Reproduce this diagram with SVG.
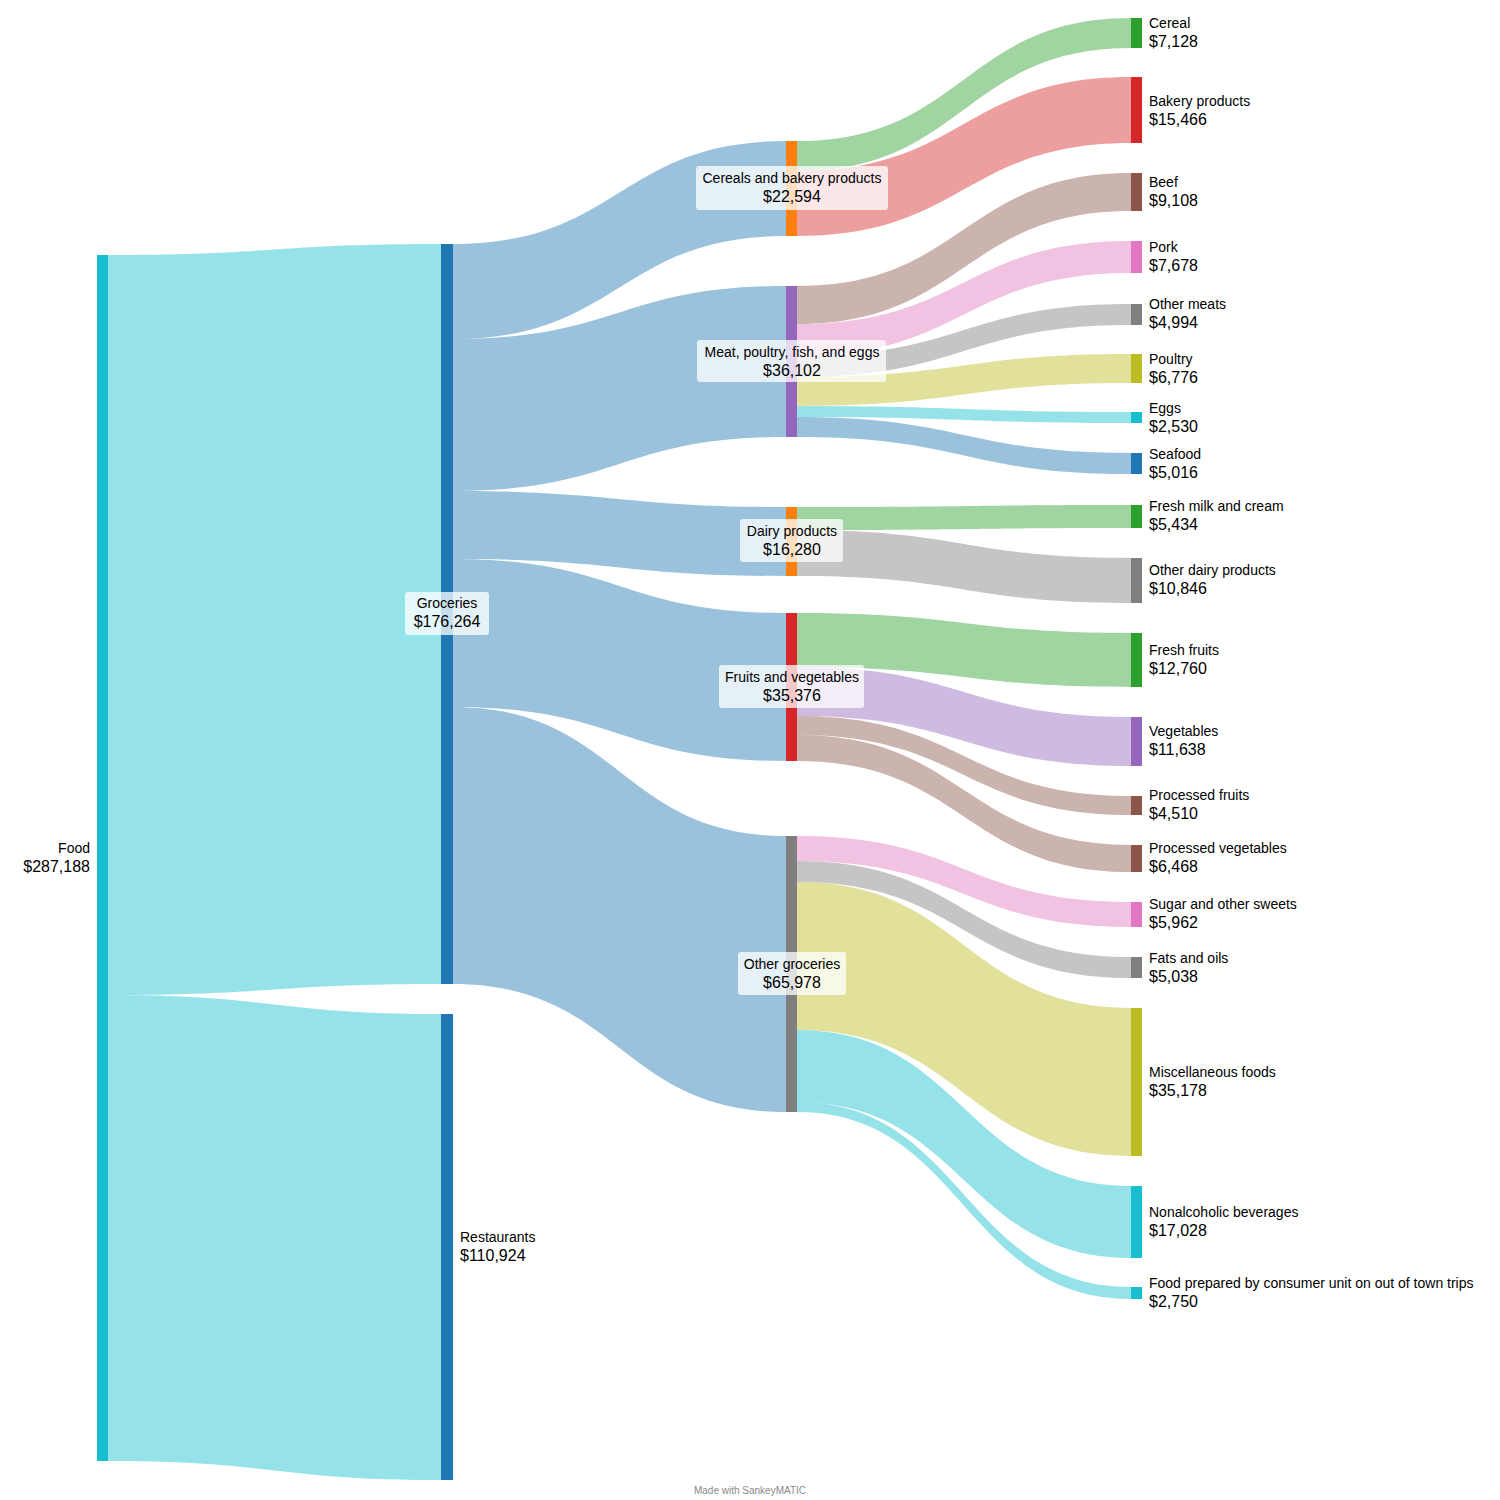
<svg xmlns="http://www.w3.org/2000/svg" width="1500" height="1500" viewBox="0 0 1500 1500">
<style>
.f{fill-opacity:0.45;stroke:none}
.n{font-family:"Liberation Sans",Arial,sans-serif;font-size:14px;fill:#000}
.v{font-family:"Liberation Sans",Arial,sans-serif;font-size:16px;fill:#000}
.bx{fill:#fff;fill-opacity:0.75;rx:3}
</style>
<rect width="1500" height="1500" fill="#fff"/>
<g id="connectors">
<path class="f" fill="#17becf" d="M108,255 C274.5,255 274.5,244 441,244 L441,984 C274.5,984 274.5,995 108,995 Z"/>
<path class="f" fill="#17becf" d="M108,995 C274.5,995 274.5,1014 441,1014 L441,1480 C274.5,1480 274.5,1461 108,1461 Z"/>
<path class="f" fill="#1f77b4" d="M453,244 C619.5,244 619.5,141 786,141 L786,236 C619.5,236 619.5,339 453,339 Z"/>
<path class="f" fill="#1f77b4" d="M453,339 C619.5,339 619.5,286 786,286 L786,437 C619.5,437 619.5,491 453,491 Z"/>
<path class="f" fill="#1f77b4" d="M453,491 C619.5,491 619.5,507 786,507 L786,576 C619.5,576 619.5,559 453,559 Z"/>
<path class="f" fill="#1f77b4" d="M453,559 C619.5,559 619.5,613 786,613 L786,761 C619.5,761 619.5,707 453,707 Z"/>
<path class="f" fill="#1f77b4" d="M453,707 C619.5,707 619.5,836 786,836 L786,1112 C619.5,1112 619.5,984 453,984 Z"/>
<path class="f" fill="#2ca02c" d="M797,141 C964,141 964,18 1131,18 L1131,48 C964,48 964,171 797,171 Z"/>
<path class="f" fill="#d62728" d="M797,171 C964,171 964,77 1131,77 L1131,143 C964,143 964,236 797,236 Z"/>
<path class="f" fill="#8c564b" d="M797,286 C964,286 964,173 1131,173 L1131,211 C964,211 964,324 797,324 Z"/>
<path class="f" fill="#e377c2" d="M797,324 C964,324 964,241 1131,241 L1131,273 C964,273 964,356 797,356 Z"/>
<path class="f" fill="#7f7f7f" d="M797,356 C964,356 964,304 1131,304 L1131,325 C964,325 964,377 797,377 Z"/>
<path class="f" fill="#bcbd22" d="M797,377 C964,377 964,354 1131,354 L1131,383 C964,383 964,406 797,406 Z"/>
<path class="f" fill="#17becf" d="M797,406 C964,406 964,412 1131,412 L1131,423 C964,423 964,417 797,417 Z"/>
<path class="f" fill="#1f77b4" d="M797,417 C964,417 964,453 1131,453 L1131,474 C964,474 964,437 797,437 Z"/>
<path class="f" fill="#2ca02c" d="M797,507 C964,507 964,505 1131,505 L1131,528 C964,528 964,530 797,530 Z"/>
<path class="f" fill="#7f7f7f" d="M797,530 C964,530 964,558 1131,558 L1131,603 C964,603 964,576 797,576 Z"/>
<path class="f" fill="#2ca02c" d="M797,613 C964,613 964,633 1131,633 L1131,687 C964,687 964,667 797,667 Z"/>
<path class="f" fill="#9467bd" d="M797,667 C964,667 964,717 1131,717 L1131,766 C964,766 964,716 797,716 Z"/>
<path class="f" fill="#8c564b" d="M797,716 C964,716 964,796 1131,796 L1131,815 C964,815 964,735 797,735 Z"/>
<path class="f" fill="#8c564b" d="M797,735 C964,735 964,845 1131,845 L1131,872 C964,872 964,761 797,761 Z"/>
<path class="f" fill="#e377c2" d="M797,836 C964,836 964,902 1131,902 L1131,927 C964,927 964,861 797,861 Z"/>
<path class="f" fill="#7f7f7f" d="M797,861 C964,861 964,957 1131,957 L1131,978 C964,978 964,882 797,882 Z"/>
<path class="f" fill="#bcbd22" d="M797,882 C964,882 964,1008 1131,1008 L1131,1156 C964,1156 964,1030 797,1030 Z"/>
<path class="f" fill="#17becf" d="M797,1030 C964,1030 964,1186 1131,1186 L1131,1258 C964,1258 964,1102 797,1102 Z"/>
<path class="f" fill="#17becf" d="M797,1102 C964,1102 964,1287 1131,1287 L1131,1299 C964,1299 964,1112 797,1112 Z"/>
</g>
<g id="food"><rect x="97" y="255" width="11" height="1206" fill="#17becf"/><text class="n" x="90" y="853" text-anchor="end">Food</text><text class="v" x="90" y="872" text-anchor="end">$287,188</text></g>
<g id="restaurants"><rect x="441" y="1014" width="12" height="466" fill="#1f77b4"/><text class="n" x="460" y="1242">Restaurants</text><text class="v" x="460" y="1261">$110,924</text></g>
<g id="groceries"><rect x="441" y="244" width="12" height="740" fill="#1f77b4"/><rect class="bx" x="405" y="592" width="84" height="43"/><text class="n" x="447" y="608" text-anchor="middle">Groceries</text><text class="v" x="447" y="627" text-anchor="middle">$176,264</text></g>
<g id="cereals-bakery"><rect x="786" y="141" width="11" height="95" fill="#ff7f0e"/><rect class="bx" x="696" y="166" width="192" height="44"/><text class="n" x="792" y="183" text-anchor="middle">Cereals and bakery products</text><text class="v" x="792" y="202" text-anchor="middle">$22,594</text></g>
<g id="meat"><rect x="786" y="286" width="11" height="151" fill="#9467bd"/><rect class="bx" x="697" y="340" width="189" height="42"/><text class="n" x="792" y="357" text-anchor="middle">Meat, poultry, fish, and eggs</text><text class="v" x="792" y="376" text-anchor="middle">$36,102</text></g>
<g id="dairy"><rect x="786" y="507" width="11" height="69" fill="#ff7f0e"/><rect class="bx" x="740" y="519" width="103" height="43"/><text class="n" x="792" y="536" text-anchor="middle">Dairy products</text><text class="v" x="792" y="555" text-anchor="middle">$16,280</text></g>
<g id="fruits-veg"><rect x="786" y="613" width="11" height="148" fill="#d62728"/><rect class="bx" x="719" y="665" width="145" height="43"/><text class="n" x="792" y="682" text-anchor="middle">Fruits and vegetables</text><text class="v" x="792" y="701" text-anchor="middle">$35,376</text></g>
<g id="other-groceries"><rect x="786" y="836" width="11" height="276" fill="#7f7f7f"/><rect class="bx" x="738" y="952" width="108" height="43"/><text class="n" x="792" y="969" text-anchor="middle">Other groceries</text><text class="v" x="792" y="988" text-anchor="middle">$65,978</text></g>
<g id="cereal"><rect x="1131" y="18" width="11" height="30" fill="#2ca02c"/><text class="n" x="1149" y="28">Cereal</text><text class="v" x="1149" y="47">$7,128</text></g>
<g id="bakery"><rect x="1131" y="77" width="11" height="66" fill="#d62728"/><text class="n" x="1149" y="106">Bakery products</text><text class="v" x="1149" y="125">$15,466</text></g>
<g id="beef"><rect x="1131" y="173" width="11" height="38" fill="#8c564b"/><text class="n" x="1149" y="187">Beef</text><text class="v" x="1149" y="206">$9,108</text></g>
<g id="pork"><rect x="1131" y="241" width="11" height="32" fill="#e377c2"/><text class="n" x="1149" y="252">Pork</text><text class="v" x="1149" y="271">$7,678</text></g>
<g id="other-meats"><rect x="1131" y="304" width="11" height="21" fill="#7f7f7f"/><text class="n" x="1149" y="309">Other meats</text><text class="v" x="1149" y="328">$4,994</text></g>
<g id="poultry"><rect x="1131" y="354" width="11" height="29" fill="#bcbd22"/><text class="n" x="1149" y="364">Poultry</text><text class="v" x="1149" y="383">$6,776</text></g>
<g id="eggs"><rect x="1131" y="412" width="11" height="11" fill="#17becf"/><text class="n" x="1149" y="413">Eggs</text><text class="v" x="1149" y="432">$2,530</text></g>
<g id="seafood"><rect x="1131" y="453" width="11" height="21" fill="#1f77b4"/><text class="n" x="1149" y="459">Seafood</text><text class="v" x="1149" y="478">$5,016</text></g>
<g id="fresh-milk"><rect x="1131" y="505" width="11" height="23" fill="#2ca02c"/><text class="n" x="1149" y="511">Fresh milk and cream</text><text class="v" x="1149" y="530">$5,434</text></g>
<g id="other-dairy"><rect x="1131" y="558" width="11" height="45" fill="#7f7f7f"/><text class="n" x="1149" y="575">Other dairy products</text><text class="v" x="1149" y="594">$10,846</text></g>
<g id="fresh-fruits"><rect x="1131" y="633" width="11" height="54" fill="#2ca02c"/><text class="n" x="1149" y="655">Fresh fruits</text><text class="v" x="1149" y="674">$12,760</text></g>
<g id="vegetables"><rect x="1131" y="717" width="11" height="49" fill="#9467bd"/><text class="n" x="1149" y="736">Vegetables</text><text class="v" x="1149" y="755">$11,638</text></g>
<g id="processed-fruits"><rect x="1131" y="796" width="11" height="19" fill="#8c564b"/><text class="n" x="1149" y="800">Processed fruits</text><text class="v" x="1149" y="819">$4,510</text></g>
<g id="processed-veg"><rect x="1131" y="845" width="11" height="27" fill="#8c564b"/><text class="n" x="1149" y="853">Processed vegetables</text><text class="v" x="1149" y="872">$6,468</text></g>
<g id="sugar"><rect x="1131" y="902" width="11" height="25" fill="#e377c2"/><text class="n" x="1149" y="909">Sugar and other sweets</text><text class="v" x="1149" y="928">$5,962</text></g>
<g id="fats"><rect x="1131" y="957" width="11" height="21" fill="#7f7f7f"/><text class="n" x="1149" y="963">Fats and oils</text><text class="v" x="1149" y="982">$5,038</text></g>
<g id="misc"><rect x="1131" y="1008" width="11" height="148" fill="#bcbd22"/><text class="n" x="1149" y="1077">Miscellaneous foods</text><text class="v" x="1149" y="1096">$35,178</text></g>
<g id="nonalcoholic"><rect x="1131" y="1186" width="11" height="72" fill="#17becf"/><text class="n" x="1149" y="1217">Nonalcoholic beverages</text><text class="v" x="1149" y="1236">$17,028</text></g>
<g id="food-prepared"><rect x="1131" y="1287" width="11" height="12" fill="#17becf"/><text class="n" x="1149" y="1288">Food prepared by consumer unit on out of town trips</text><text class="v" x="1149" y="1307">$2,750</text></g>
<text x="750" y="1494" text-anchor="middle" font-family="Liberation Sans,Arial,sans-serif" font-size="10" fill="#888">Made with SankeyMATIC</text>
</svg>
